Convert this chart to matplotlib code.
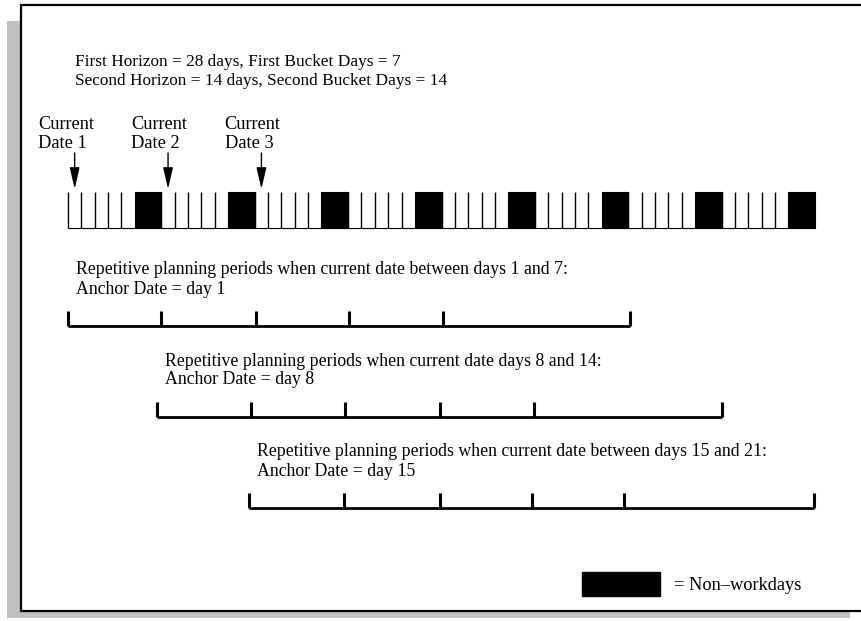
import matplotlib
matplotlib.use('Agg')
import matplotlib.pyplot as plt
from matplotlib.patches import Rectangle, FancyArrowPatch

plt.rcParams['font.family'] = ['Liberation Serif', 'DejaVu Serif']

# data (day numbers; day d covers [d, d+1])
num_days = 56
workday_starts = [1, 2, 3, 4, 5, 8, 9, 10, 11, 12, 15, 16, 17, 18, 19, 22, 23, 24, 25, 26,
                  29, 30, 31, 32, 33, 36, 37, 38, 39, 40, 43, 44, 45, 46, 47, 50, 51, 52, 53, 54]
nonwork_block_starts = [6, 13, 20, 27, 34, 41, 48, 55]
nonwork_block_len = 2

current_dates = [1, 8, 15]
current_labels = ['Current\nDate 1', 'Current\nDate 2', 'Current\nDate 3']

header_lines = ['First Horizon = 28 days, First Bucket Days = 7',
                'Second Horizon = 14 days, Second Bucket Days = 14']

period_titles = ['Repetitive planning periods when current date between days 1 and 7:',
                 'Repetitive planning periods when current date days 8 and 14:',
                 'Repetitive planning periods when current date between days 15 and 21:']
anchor_labels = ['Anchor Date = day 1', 'Anchor Date = day 8', 'Anchor Date = day 15']
period_bounds = [
    [1, 8, 15.1, 22.1, 29.1, 43.1],
    [7.7, 14.7, 21.8, 28.9, 35.9, 50.0],
    [14.6, 21.7, 28.9, 35.8, 42.7, 56.9],
]

legend_label = '= Non\u2013workdays'

W, H = 861, 621
fig = plt.figure(figsize=(W / 100, H / 100), dpi=100)

# frame with grey drop shadow (figure pixels)
def fig_rect(x0, y0, x1, y1, **kw):
    r = Rectangle((x0 / W, 1 - y1 / H), (x1 - x0) / W, (y1 - y0) / H,
                  transform=fig.transFigure, **kw)
    fig.add_artist(r)

fig_rect(7, 21, 850, 618, facecolor='#c0c0c0', edgecolor='none', zorder=0)
fig_rect(21, 5, 875, 611, facecolor='white', edgecolor='black', linewidth=1.6, zorder=1)

ax = fig.add_axes([0, 0, 1, 1])
px_per_day = 13.34
ax.set_xlim(1 - 68 / px_per_day, 1 + (W - 68) / px_per_day)
ax.set_ylim(H, 0)
ax.axis('off')
ax.set_zorder(2)

# header
ax.text(1.5, 62, header_lines[0], fontsize=12.4, va='center', ha='left')
ax.text(1.5, 81, header_lines[1], fontsize=12.4, va='center', ha='left')

# day strip
bar_top, bar_bot = 192, 228
ax.vlines(workday_starts, bar_top, bar_bot, color='black', linewidth=1.0)
for s in nonwork_block_starts:
    ax.add_patch(Rectangle((s, bar_top), nonwork_block_len, bar_bot - bar_top,
                           facecolor='black', edgecolor='black', linewidth=0.8))
ax.hlines(bar_bot, 1, 1 + num_days, color='black', linewidth=0.8)

# current date arrows and labels
for d, lab in zip(current_dates, current_labels):
    x = d + 0.5
    ax.add_patch(FancyArrowPatch((x, 153), (x, 189),
                                 arrowstyle='-|>,head_length=1.3,head_width=0.3',
                                 mutation_scale=10, color='black', linewidth=1.0,
                                 shrinkA=0, shrinkB=0))
    ax.text(x - 2.75, 134, lab, fontsize=13.2, ha='left', va='center', linespacing=1.12)

# repetitive planning periods
row_lines = [326, 417, 508]
for title, anc, bounds, yl in zip(period_titles, anchor_labels, period_bounds, row_lines):
    x0 = bounds[0]
    ax.text(x0 + 0.6, yl - 56, title, fontsize=12.8, ha='left', va='center')
    ax.text(x0 + 0.6, yl - 37, anc, fontsize=12.8, ha='left', va='center')
    ax.hlines(yl, bounds[0], bounds[-1], color='black', linewidth=2.0)
    ax.vlines(bounds, yl - 15, yl, color='black', linewidth=2.2)

# legend
ax.add_patch(Rectangle((39.5, 572), 5.9, 24, facecolor='black', edgecolor='black'))
ax.text(46.4, 585, legend_label, fontsize=13.2, ha='left', va='center')

fig.savefig('out.png', dpi=100)
